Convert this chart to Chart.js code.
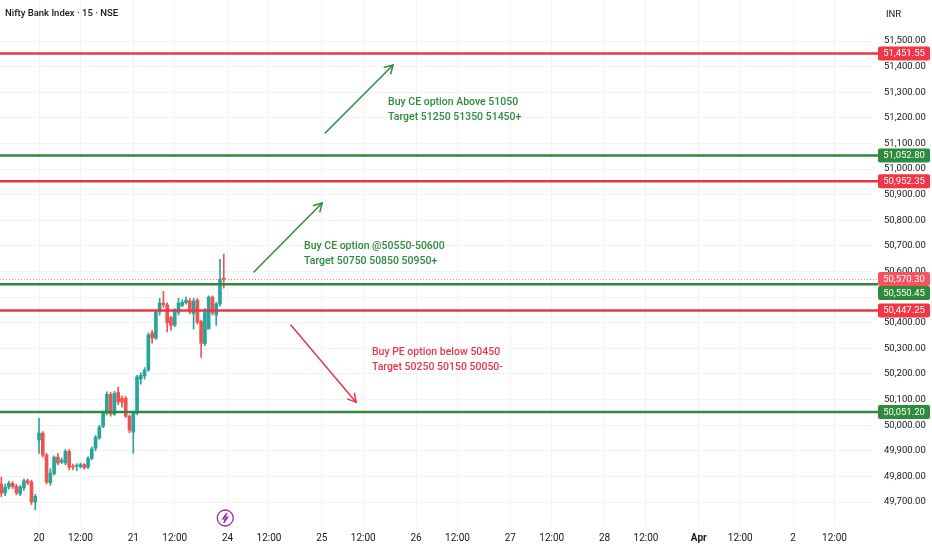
<!DOCTYPE html>
<html><head><meta charset="utf-8">
<script src="https://cdn.jsdelivr.net/npm/chart.js@4.4.1/dist/chart.umd.min.js"></script>
<style>html,body{margin:0;padding:0;background:#fff;overflow:hidden}#wrap{position:relative;width:932px;height:550px}</style>
</head><body><div id="wrap"><canvas id="c" width="932" height="550"></canvas></div>
<script>
// ---- candle data (15-min bars, Nifty Bank) ----
const opens  = [49770,49735,49758,49773,49762,49732,49756,49783,49778,49700,
                49942,49969,49883,49775,49810,49875,49856,49852,49898,49840,
                49840,49838,49846,49836,49870,49910,49950,49995,50047,50120,
                50043,50128,50105,50105,50035,49973,50047,50180,50192,50215,
                50360,50340,50442,50477,50470,50420,50390,50440,50468,50478,
                50485,50435,50488,50405,50318,50375,50500,50430,50473,50572];
const highs  = [49797,49770,49782,49780,49770,49765,49790,49790,49785,49730,
                50027,49975,49890,49830,49880,49890,49872,49905,49905,49848,
                49850,49852,49850,49876,49915,49960,50000,50055,50130,50128,
                50132,50148,50115,50112,50040,50055,50195,50205,50225,50360,
                50370,50450,50495,50522,50478,50425,50455,50495,50490,50500,
                50495,50495,50495,50410,50455,50505,50505,50480,50648,50668];
const lows   = [49720,49725,49750,49752,49728,49725,49745,49768,49690,49670,
                49890,49875,49770,49765,49805,49845,49850,49845,49825,49825,
                49822,49832,49828,49830,49865,49900,49945,49990,50040,50035,
                50038,50080,50070,50030,49970,49890,50040,50160,50180,50210,
                50320,50335,50430,50460,50364,50370,50385,50430,50462,50472,
                50435,50375,50395,50265,50310,50395,50430,50390,50465,50535];
const closes = [49735,49758,49773,49760,49735,49758,49783,49775,49700,49722,
                49969,49883,49778,49813,49875,49852,49864,49898,49836,49836,
                49842,49846,49834,49870,49907,49953,49992,50047,50120,50043,
                50124,50090,50090,50035,49980,50047,50188,50195,50215,50352,
                50340,50442,50477,50470,50400,50390,50450,50477,50480,50488,
                50442,50485,50402,50320,50449,50500,50438,50473,50570,50570.30];

// ---- axis ticks ----
const timeTickIndex = [10,21,35,46,60,71,85,96,110,121,135,146,160,171,185,196,210,221];
const timeTickText  = ['20','12:00','21','12:00','24','12:00','25','12:00','26','12:00','27','12:00','28','12:00','Apr','12:00','2','12:00'];
const priceTicks = [49700,49800,49900,50000,50100,50200,50300,50400,50500,50600,50700,50800,50900,51000,51100,51200,51300,51400,51500];

// ---- drawn horizontal levels ----
const levelValues = [51451.55, 51052.80, 50952.35, 50550.45, 50447.25, 50051.20];
const levelKinds  = ['red','green','red','green','red','green'];
const lastPrice = 50570.30;

// ---- text notes (anchored in bar-index / price space) ----
const noteIndex = [102.6, 80.3, 98.3];
const notePrice = [51261.8, 50699.3, 50285.2];
const noteLine1 = ['Buy CE option Above 51050', 'Buy CE option @50550-50600', 'Buy PE option below 50450'];
const noteLine2 = ['Target 51250 51350 51450+', 'Target 50750 50850 50950+', 'Target 50250 50150 50050-'];
const noteKinds = ['green','green','red'];

// ---- arrows (anchored in bar-index / price space) ----
const arrowFromIndex = [85.9, 67.0, 76.8];
const arrowFromPrice = [51140.7, 50597.7, 50390.7];
const arrowToIndex   = [103.9, 85.1, 94.1];
const arrowToPrice   = [51406.3, 50867.2, 50089.9];
const arrowKinds     = ['green','green','red'];

const COL = {
  up:'#26a69a', down:'#ef5350',
  red:'#e8364a', green:'#2f8a3c',
  redLabel:'#f23645', greenLabel:'#2e8b3c',
  noteGreen:'#2e8b3c', noteRed:'#e8364a',
  text:'#131722', grid:'#f2f3f6'
};
const FONT = 'Roboto, "Open Sans", sans-serif';
Chart.defaults.font.family = FONT;

const idx = opens.map((_, i) => i);
const isUp = idx.map(i => closes[i] >= opens[i]);
const barColors = idx.map(i => isUp[i] ? COL.up : COL.down);

const fmt = v => Number(v).toLocaleString('en-US', {minimumFractionDigits:2, maximumFractionDigits:2});

function roundRect(ctx, x, y, w, h, r){
  ctx.beginPath();
  ctx.moveTo(x+r, y); ctx.lineTo(x+w-r, y); ctx.quadraticCurveTo(x+w, y, x+w, y+r);
  ctx.lineTo(x+w, y+h-r); ctx.quadraticCurveTo(x+w, y+h, x+w-r, y+h);
  ctx.lineTo(x+r, y+h); ctx.quadraticCurveTo(x, y+h, x, y+h-r);
  ctx.lineTo(x, y+r); ctx.quadraticCurveTo(x, y, x+r, y); ctx.closePath();
}

const overlay = {
  id:'overlay',
  afterDatasetsDraw(chart){
    const {ctx, chartArea:a, scales:{x, y}} = chart;
    const lineEnd = 878;
    ctx.save();
    // last price dotted line
    ctx.strokeStyle = 'rgba(239,83,80,0.75)';
    ctx.lineWidth = 1; ctx.setLineDash([1,2]);
    const yp = Math.round(y.getPixelForValue(lastPrice)) + 0.5;
    ctx.beginPath(); ctx.moveTo(a.left, yp); ctx.lineTo(lineEnd, yp); ctx.stroke();
    ctx.setLineDash([]);
    // level lines
    levelValues.forEach((v, i) => {
      const py = y.getPixelForValue(v);
      ctx.strokeStyle = levelKinds[i] === 'red' ? COL.red : COL.green;
      ctx.lineWidth = 2.5;
      ctx.beginPath(); ctx.moveTo(a.left, py); ctx.lineTo(lineEnd, py); ctx.stroke();
    });
    // arrows
    arrowKinds.forEach((k, i) => {
      const x1 = x.getPixelForValue(arrowFromIndex[i]), y1 = y.getPixelForValue(arrowFromPrice[i]);
      const x2 = x.getPixelForValue(arrowToIndex[i]),   y2 = y.getPixelForValue(arrowToPrice[i]);
      ctx.strokeStyle = k === 'red' ? COL.noteRed : COL.noteGreen;
      ctx.lineWidth = 1.5; ctx.lineCap = 'round';
      ctx.beginPath(); ctx.moveTo(x1, y1); ctx.lineTo(x2, y2); ctx.stroke();
      const ang = Math.atan2(y2 - y1, x2 - x1), L = 9, sp = Math.PI / 6;
      ctx.beginPath();
      ctx.moveTo(x2 - L*Math.cos(ang - sp), y2 - L*Math.sin(ang - sp));
      ctx.lineTo(x2, y2);
      ctx.lineTo(x2 - L*Math.cos(ang + sp), y2 - L*Math.sin(ang + sp));
      ctx.stroke();
    });
    // notes
    ctx.font = '500 10.5px ' + FONT;
    ctx.textAlign = 'left'; ctx.textBaseline = 'middle';
    noteKinds.forEach((k, i) => {
      const px = x.getPixelForValue(noteIndex[i]), py = y.getPixelForValue(notePrice[i]);
      ctx.fillStyle = k === 'red' ? COL.noteRed : COL.noteGreen;
      ctx.fillText(noteLine1[i], px, py);
      ctx.fillText(noteLine2[i], px, py + 15);
    });
    // event icon
    const cx = x.getPixelForValue(idx.length - 0.6), cy = a.bottom - 7;
    ctx.strokeStyle = '#9c27b0'; ctx.lineWidth = 1.3;
    ctx.beginPath(); ctx.arc(cx, cy, 8, 0, Math.PI*2); ctx.stroke();
    ctx.beginPath();
    ctx.moveTo(cx+1.5, cy-5); ctx.lineTo(cx-2.5, cy+0.8); ctx.lineTo(cx+0.3, cy+0.8);
    ctx.lineTo(cx-1.5, cy+5); ctx.lineTo(cx+2.5, cy-0.8); ctx.lineTo(cx-0.3, cy-0.8); ctx.closePath();
    ctx.stroke();
    ctx.restore();
  },
  afterDraw(chart){
    const {ctx, scales:{y}} = chart;
    ctx.save();
    // title + currency
    ctx.fillStyle = COL.text; ctx.textBaseline = 'middle'; ctx.textAlign = 'left';
    ctx.font = '500 9.5px ' + FONT;
    ctx.fillText('Nifty Bank Index \u00b7 15 \u00b7 NSE', 5, 14);
    ctx.font = '9.5px ' + FONT;
    ctx.fillText('INR', 886, 15);
    // price labels with simple collision avoidance
    const labels = levelValues.map((v, i) => ({v, c: levelKinds[i] === 'red' ? COL.redLabel : COL.greenLabel}));
    labels.push({v: lastPrice, c: '#f7525f'});
    labels.forEach(l => l.py = y.getPixelForValue(l.v));
    labels.sort((p, q) => p.py - q.py);
    const h = 14;
    for (let i = 1; i < labels.length; i++) {
      if (labels[i].py - labels[i-1].py < h) labels[i].py = labels[i-1].py + h;
    }
    ctx.font = '9.5px ' + FONT; ctx.textAlign = 'center';
    labels.forEach(l => {
      ctx.fillStyle = l.c;
      roundRect(ctx, 878, l.py - h/2, 52, h, 2); ctx.fill();
      ctx.fillStyle = '#ffffff';
      ctx.fillText(fmt(l.v), 904, l.py + 0.5);
    });
    ctx.restore();
  }
};

new Chart(document.getElementById('c'), {
  type:'bar',
  data:{
    datasets:[
      { label:'wick', data: idx.map(i => ({x:i, y:[lows[i], highs[i]]})),
        backgroundColor: barColors, barThickness: 1, grouped:false, order:2 },
      { label:'body', data: idx.map(i => ({x:i, y:[Math.min(opens[i], closes[i]), Math.max(opens[i], closes[i])]})),
        backgroundColor: barColors, barThickness: 3, minBarLength: 1, grouped:false, order:1 }
    ]
  },
  options:{
    responsive:false, animation:false,
    layout:{padding:0},
    plugins:{legend:{display:false}, tooltip:{enabled:false}},
    scales:{
      x:{
        type:'linear', min:-0.35, max:230.95, offset:false,
        grid:{color:COL.grid, drawTicks:false, offset:false},
        border:{display:false},
        afterBuildTicks: s => { s.ticks = timeTickIndex.map(v => ({value:v})); },
        afterFit: s => { s.height = 25; s.paddingLeft = 0; s.paddingRight = 0; s.paddingTop = 0; s.paddingBottom = 0; },
        ticks:{
          autoSkip:false, maxRotation:0, padding:7, color:COL.text,
          font: ctx => ({size:10, weight: (ctx.tick && ctx.tick.value === 185) ? 'bold' : 'normal'}),
          callback: v => timeTickText[timeTickIndex.indexOf(v)]
        }
      },
      y:{
        position:'right', min:49610.2, max:51660.1,
        grid:{color:COL.grid, drawTicks:false},
        border:{display:false},
        afterBuildTicks: s => { s.ticks = priceTicks.map(v => ({value:v})); },
        afterFit: s => { s.width = 60; s.paddingTop = 0; s.paddingBottom = 0; s.paddingLeft = 0; s.paddingRight = 0; },
        ticks:{ padding:12, color:COL.text, font:{size:9.5}, callback: v => fmt(v) }
      }
    }
  },
  plugins:[overlay]
});
</script>
</body></html>
